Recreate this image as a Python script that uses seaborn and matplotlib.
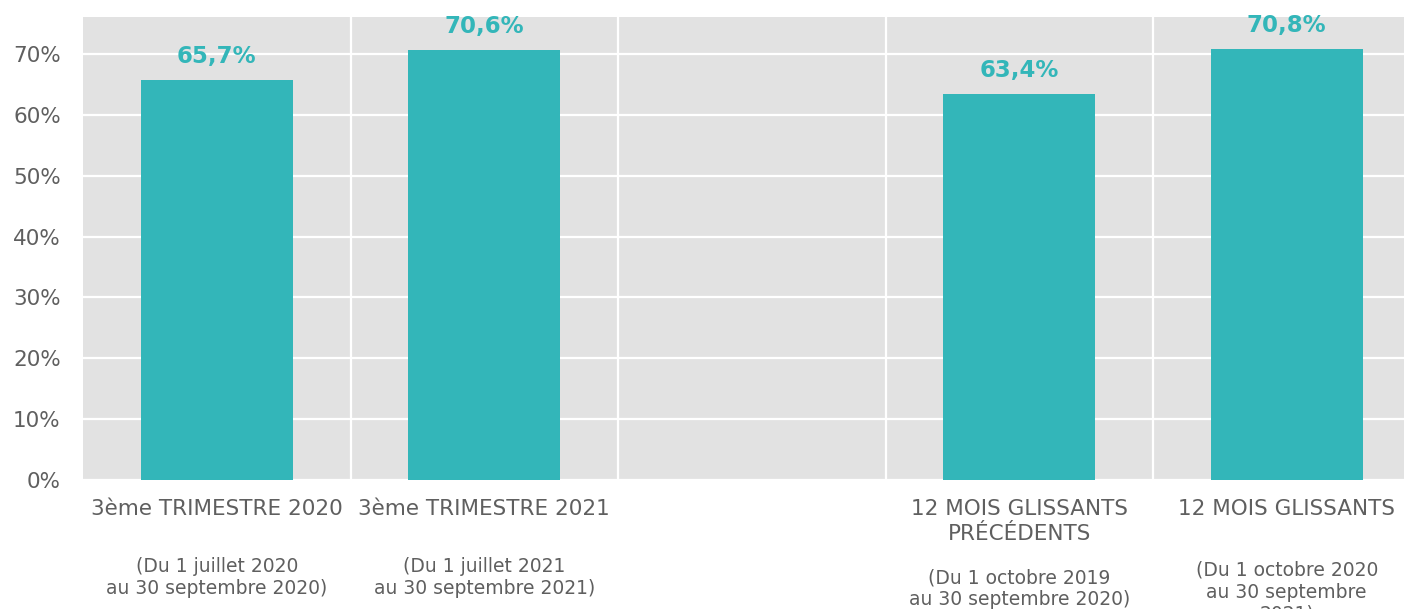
import pandas as pd
import matplotlib.pyplot as plt
import seaborn as sns
from matplotlib.ticker import PercentFormatter

# Données
categories = ["3ème TRIMESTRE 2020", "3ème TRIMESTRE 2021", "",
              "12 MOIS GLISSANTS\nPRÉCÉDENTS", "12 MOIS GLISSANTS"]
periodes = ["(Du 1 juillet 2020\nau 30 septembre 2020)",
            "(Du 1 juillet 2021\nau 30 septembre 2021)",
            "",
            "(Du 1 octobre 2019\nau 30 septembre 2020)",
            "(Du 1 octobre 2020\nau 30 septembre\n2021)"]
valeurs = [0.657, 0.706, None, 0.634, 0.708]
etiquettes = ["65,7%", "70,6%", "", "63,4%", "70,8%"]

TEAL = "#33b6b9"
GRIS = "#5f5f5f"

df = pd.DataFrame({"cat": categories, "val": valeurs}).dropna()

sns.set_theme(style="darkgrid")
plt.rcParams['font.family'] = ['DejaVu Sans']

fig = plt.figure(figsize=(14.04, 6.09), dpi=100)
ax = fig.add_axes([83 / 1404, 129 / 609, 1337.5 / 1404, 463 / 609])
ax.set_facecolor("#e2e2e2")

sns.barplot(data=df, x="cat", y="val", order=categories, color=TEAL,
            width=0.57, saturation=1, linewidth=0, ax=ax)

# étiquettes de valeur
for cont in ax.containers:
    lab = [e for e in etiquettes if e]
    ax.bar_label(cont, labels=lab, padding=9, color=TEAL,
                 fontsize=16.5, fontweight="bold")

ax.set_ylim(0, 0.761)
ax.set_xlim(-0.5, 4.5)
ax.set_yticks([i / 10 for i in range(8)])
ax.yaxis.set_major_formatter(PercentFormatter(1.0, decimals=0))
ax.set_xticks(range(5))
ax.set_xticklabels(categories, va="top", linespacing=1.3)
ax.set_xticks([0.5, 1.5, 2.5, 3.5], minor=True)
ax.grid(True, which="major", axis="y", color="white", linewidth=1.6)
ax.grid(True, which="minor", axis="x", color="white", linewidth=1.6)
ax.grid(False, which="major", axis="x")
ax.tick_params(axis="y", length=0, pad=16, labelsize=15.5, labelcolor=GRIS)
ax.tick_params(axis="x", which="both", length=0, pad=14, labelsize=15.5,
               labelcolor=GRIS)
ax.set_xlabel("")
ax.set_ylabel("")
for s in ax.spines.values():
    s.set_visible(False)

# périodes sous les catégories
decal = [77, 77, 0, 88, 81]
for i, txt in enumerate(periodes):
    if not txt:
        continue
    ax.annotate(txt, xy=(i, 0), xycoords=("data", "axes fraction"),
                xytext=(0, -decal[i]), textcoords="offset pixels",
                ha="center", va="top", fontsize=13.5, color=GRIS,
                linespacing=1.2, annotation_clip=False)

fig.savefig("out.png", dpi=100)
